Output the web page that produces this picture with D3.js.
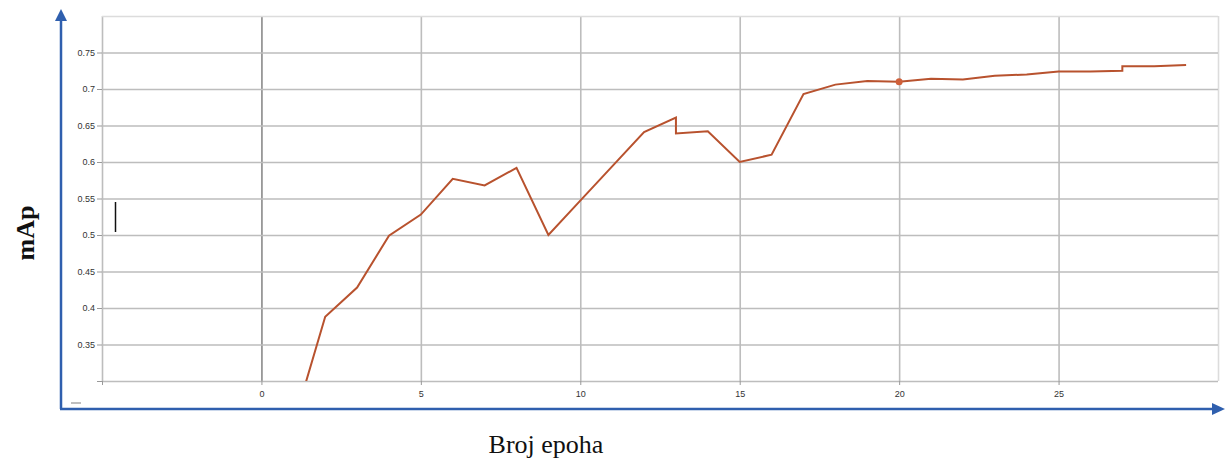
<!DOCTYPE html>
<html>
   <head>
      <style>
         body { margin: 0; background: #fff; }
         .grid line { stroke: #bdbdbd; stroke-width: 1.6px; }
         .grid path { display: none; }
         .tick text { font-family: "Liberation Sans", Arial, sans-serif; font-size: 9px; fill: #333; }
         .title { font-family: "Liberation Serif", "Times New Roman", serif; font-size: 26px; fill: #111; }
      </style>
   </head>
   <body>
      <svg width="1227" height="459"></svg>
      <script src="https://d3js.org/d3.v7.min.js"></script>
      <script>
      // epoch / mAp values (13 and 27 have two points each)
      const epochs = [1, 2, 3, 4, 5, 6, 7, 8, 9, 10, 11, 12, 13, 13, 14, 15, 16, 17, 18, 19, 20, 21, 22, 23, 24, 25, 26, 27, 27, 28, 29];
      const mapValues = [0.24, 0.388, 0.428, 0.499, 0.528, 0.577, 0.568, 0.592, 0.500, 0.547, 0.594, 0.641, 0.661, 0.639, 0.642, 0.600, 0.610, 0.693, 0.706, 0.711, 0.710, 0.714, 0.713, 0.718, 0.720, 0.724, 0.724, 0.725, 0.731, 0.731, 0.733];
      const xTicks = [0, 5, 10, 15, 20, 25];
      const yTicks = [0.35, 0.4, 0.45, 0.5, 0.55, 0.6, 0.65, 0.7, 0.75];
      const markedEpoch = 20;

      const data = epochs.map((e, i) => ({epoch: e, map: mapValues[i]}));

      const svg = d3.select("svg");
      const plotL = 102, plotR = 1218, plotT = 16, plotB = 381;

      const xScale = d3.scaleLinear().domain([-5, 30]).range([plotL, plotR]);
      const yScale = d3.scaleLinear().domain([0.3, 0.8]).range([plotB, plotT]);

      // grid
      svg.append("g")
         .attr("class", "grid")
         .attr("transform", `translate(0,${plotB})`)
         .call(d3.axisBottom(xScale).tickValues(d3.range(-5, 31, 5)).tickSize(-(plotB - plotT)).tickFormat(""))
         .selectAll("line")
         .style("stroke", d => d === 0 ? "#8a8a8a" : (d === 30 ? "#dcdcdc" : null));
      svg.append("g")
         .attr("class", "grid")
         .attr("transform", `translate(${plotL},0)`)
         .call(d3.axisLeft(yScale).tickValues(d3.range(0.3, 0.81, 0.05)).tickSize(-(plotR - plotL)).tickFormat(""))
         .selectAll("line")
         .style("stroke", (d, i) => i === 10 ? "#dcdcdc" : null);

      // tick marks + labels
      const xAxis = svg.append("g")
         .attr("transform", `translate(0,${plotB})`)
         .call(d3.axisBottom(xScale).tickValues([-5].concat(xTicks)).tickSize(4).tickPadding(6).tickFormat(d => d < 0 ? "" : d));
      xAxis.select(".domain").remove();
      xAxis.selectAll("line").style("stroke", "#999");

      const yAxis = svg.append("g")
         .attr("transform", `translate(${plotL},0)`)
         .call(d3.axisLeft(yScale).tickValues([0.3].concat(yTicks)).tickSize(5).tickPadding(2).tickFormat(d => d < 0.31 ? "" : +d.toFixed(2)));
      yAxis.select(".domain").remove();
      yAxis.selectAll("line").style("stroke", "#999");

      // series line
      svg.append("clipPath").attr("id", "plot")
         .append("rect").attr("x", plotL).attr("y", plotT).attr("width", plotR - plotL).attr("height", plotB - plotT);

      const line = d3.line().x(d => xScale(d.epoch)).y(d => yScale(d.map));
      svg.append("path")
         .datum(data)
         .attr("clip-path", "url(#plot)")
         .attr("d", line)
         .attr("fill", "none")
         .attr("stroke", "#b8522e")
         .attr("stroke-width", 2);

      const marked = data.find(d => d.epoch === markedEpoch);
      svg.append("circle")
         .attr("cx", xScale(marked.epoch))
         .attr("cy", yScale(marked.map))
         .attr("r", 3.5)
         .attr("fill", "#d0603a");

      // stray marks from the original screenshot
      svg.append("line").attr("x1", 115.5).attr("x2", 115.5).attr("y1", 202).attr("y2", 232)
         .attr("stroke", "#111").attr("stroke-width", 1.5);
      svg.append("line").attr("x1", 71).attr("x2", 81).attr("y1", 403).attr("y2", 403)
         .attr("stroke", "#aaa").attr("stroke-width", 1.5);

      // blue arrow axes
      const blue = "#2f5fae";
      svg.append("path")
         .attr("d", "M61,409 V18")
         .attr("stroke", blue).attr("stroke-width", 2.5).attr("fill", "none");
      svg.append("path")
         .attr("d", "M61,9 L55,21 L67,21 Z").attr("fill", blue);
      svg.append("path")
         .attr("d", "M60,409 H1214")
         .attr("stroke", blue).attr("stroke-width", 2.5).attr("fill", "none");
      svg.append("path")
         .attr("d", "M1225,409 L1212,403 L1212,415 Z").attr("fill", blue);

      // titles
      svg.append("text").attr("class", "title")
         .attr("x", 546).attr("y", 453).attr("text-anchor", "middle")
         .text("Broj epoha");
      svg.append("text").attr("class", "title")
         .attr("transform", "translate(34,233) rotate(-90)")
         .attr("text-anchor", "middle")
         .style("font-weight", "bold")
         .text("mAp");
      </script>
   </body>
</html>
